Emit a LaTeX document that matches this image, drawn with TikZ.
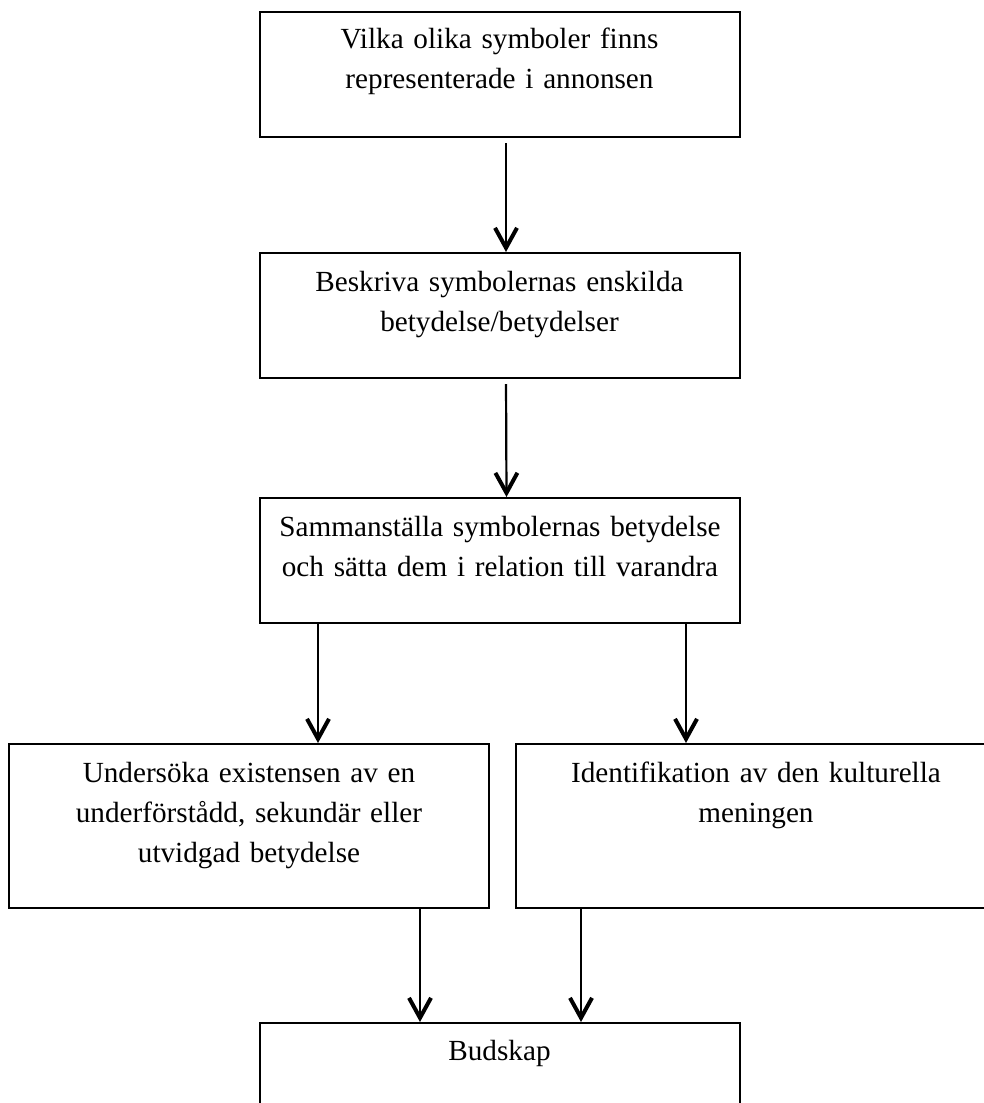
\documentclass[tikz,border=0pt]{standalone}
\usepackage{fontspec}
\setmainfont{Liberation Serif}
\usetikzlibrary{arrows.meta}

\begin{document}
\begin{tikzpicture}[x=0.5pt, y=-0.5pt,
    box/.style={draw, line width=1pt, inner sep=0pt, text width=240pt, align=center, anchor=north,
      text height=19pt, text depth=43.5pt, font=\fontsize{14.6pt}{20pt}\selectfont},
    flow/.style={line width=1.1pt, -{Straight Barb[length=10pt,width=11pt,line width=2pt]}}]
            \clip (0,0) rectangle (984,1103);
            \fill[white] (0,0) rectangle (984,1103);
            \node[box, text height=18pt, text depth=44.5pt] (B1) at (499.5,11) {Vilka olika symboler finns\\representerade i annonsen};
            \node[box] (B2) at (499.5,252) {Beskriva symbolernas enskilda\\betydelse/betydelser};
            \node[box] (B3) at (500,497) {Sammanställa symbolernas betydelse\\och sätta dem i relation till varandra};
            \node[box, text depth=63pt] (B4) at (249,743) {Undersöka existensen av en\\underförstådd, sekundär eller\\utvidgad betydelse};
            \node[box, text depth=63pt] (B5) at (756,743) {Identifikation av den kulturella\\meningen};
            \node[box, text height=18.5pt, text depth=44pt] (B6) at (499.5,1022) {Budskap};
            \draw[flow, shorten <=2.5pt] ([xshift=3.25pt]B1.south) -- ([xshift=3.25pt]B2.north);
            \draw[flow, shorten <=2.5pt] ([xshift=3.25pt]B2.south) -- ([xshift=3.25pt]B3.north);
            \draw[flow] ([xshift=-91pt]B3.south) -- ([xshift=34.5pt]B4.north);
            \draw[flow] ([xshift=93pt]B3.south) -- ([xshift=-35pt]B5.north);
            \draw[flow] ([xshift=85.5pt]B4.south) -- ([xshift=-39.75pt]B6.north);
            \draw[flow] ([xshift=-87.5pt]B5.south) -- ([xshift=40.75pt]B6.north);
        \end{tikzpicture}
\end{document}
